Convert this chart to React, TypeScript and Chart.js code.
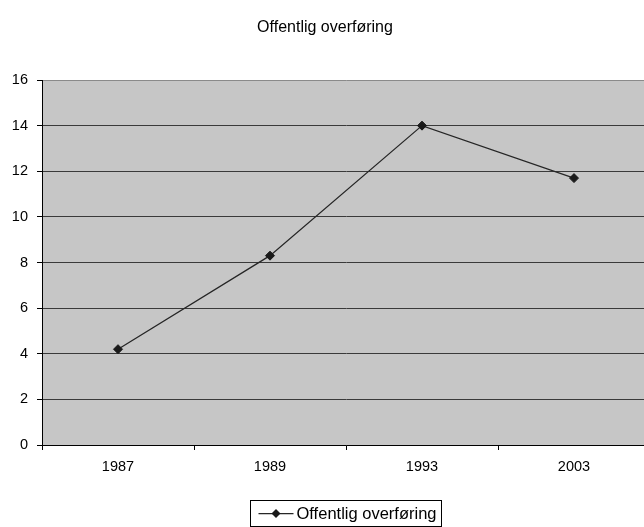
import React, { useEffect, useRef } from "react";
import { Chart, registerables } from "chart.js";

Chart.register(...registerables);

const titleText = "Offentlig overføring";
const categories = ["1987", "1989", "1993", "2003"];
const seriesLabel = "Offentlig overføring";
const seriesValues = [4.2, 8.3, 14.0, 11.7];
const yMin = 0;
const yMax = 16;
const yStep = 2;

const FONT = "'Liberation Sans', Arial, Helvetica, sans-serif";

const plotBackground = {
  id: "plotBackground",
  beforeDraw(chart: any) {
    const { ctx, chartArea } = chart;
    ctx.save();
    ctx.fillStyle = "#c6c6c6";
    ctx.fillRect(chartArea.left, chartArea.top, chartArea.right - chartArea.left, chartArea.bottom - chartArea.top);
    ctx.restore();
  },
};

const boxedLegend = {
  id: "boxedLegend",
  afterDraw(chart: any) {
    const { ctx, chartArea } = chart;
    const ds = chart.data.datasets[0];
    ctx.save();
    ctx.font = "16.5px " + FONT;
    const textW = ctx.measureText(ds.label).width;
    const padL = 8;
    const sampleW = 35;
    const gap = 3;
    const padR = 5;
    const boxW = padL + sampleW + gap + textW + padR;
    const boxH = 26;
    const cx = (chartArea.left + chartArea.right) / 2;
    const left = Math.round(cx - boxW / 2) + 0.5;
    const top = chart.height - boxH - 1 + 0.5;
    ctx.strokeStyle = "#000";
    ctx.lineWidth = 1;
    ctx.strokeRect(left, top, Math.round(boxW), boxH);
    const midY = top + boxH / 2;
    ctx.strokeStyle = ds.borderColor;
    ctx.lineWidth = ds.borderWidth;
    ctx.beginPath();
    ctx.moveTo(left + padL, midY);
    ctx.lineTo(left + padL + sampleW, midY);
    ctx.stroke();
    const mx = left + padL + sampleW / 2;
    const r = ds.pointRadius;
    ctx.fillStyle = ds.pointBackgroundColor;
    ctx.beginPath();
    ctx.moveTo(mx, midY - r);
    ctx.lineTo(mx + r, midY);
    ctx.lineTo(mx, midY + r);
    ctx.lineTo(mx - r, midY);
    ctx.closePath();
    ctx.fill();
    ctx.fillStyle = "#000";
    ctx.textBaseline = "middle";
    ctx.textAlign = "left";
    ctx.fillText(ds.label, left + padL + sampleW + gap, midY + 0.5);
    ctx.restore();
  },
};

export default function App() {
  const ref = useRef<HTMLCanvasElement | null>(null);

  useEffect(() => {
    if (!ref.current) return;
    const chart = new Chart(ref.current, {
      type: "line",
      data: {
        labels: categories,
        datasets: [
          {
            label: seriesLabel,
            data: seriesValues,
            borderColor: "#262626",
            borderWidth: 1.25,
            pointStyle: "rectRot",
            pointRadius: 4.5,
            pointBackgroundColor: "#1a1a1a",
            pointBorderColor: "#1a1a1a",
            pointBorderWidth: 1,
            tension: 0,
            fill: false,
          } as any,
        ],
      },
      options: {
        responsive: false,
        animation: false,
        devicePixelRatio: 1,
        layout: { autoPadding: false, padding: { top: 0, left: 0, right: 0, bottom: 44 } },
        plugins: {
          legend: { display: false },
          tooltip: { enabled: false },
          title: {
            display: true,
            text: titleText,
            color: "#000",
            font: { family: FONT, size: 16, weight: "normal" },
            padding: { top: 18.4, bottom: 42.4 },
          },
        },
        scales: {
          x: {
            type: "category",
            offset: true,
            grid: {
              offset: true,
              drawOnChartArea: false,
              drawTicks: true,
              tickLength: 5,
              tickColor: "#000",
            },
            border: { display: true, color: "#000", width: 1 },
            ticks: {
              color: "#000",
              font: { family: FONT, size: 14.5 },
              padding: 8,
              maxRotation: 0,
            },
            afterFit(scale: any) {
              scale.height = 38;
              scale.paddingLeft = 0;
              scale.paddingRight = 0;
            },
          },
          y: {
            min: yMin,
            max: yMax,
            grid: {
              color: (c: any) => (c.tick && c.tick.value === yMax ? "#8a8a8a" : "#3a3a3a"),
              tickColor: "#000",
              tickLength: 5,
              drawTicks: true,
            },
            border: { display: true, color: "#000", width: 1 },
            ticks: {
              stepSize: yStep,
              color: "#000",
              font: { family: FONT, size: 14.5 },
              padding: 9,
            },
            afterFit(scale: any) {
              scale.width = 42;
            },
          },
        },
      },
      plugins: [plotBackground, boxedLegend],
    });
    return () => chart.destroy();
  }, []);

  return (
    <div style={{ position: "fixed", left: 0, top: 0, width: 644, height: 527, overflow: "hidden", background: "#fff" }}>
      <div style={{ width: 650, height: 527 }}>
        <canvas ref={ref} width={650} height={527} style={{ display: "block", width: 650, height: 527 }} />
      </div>
    </div>
  );
}
